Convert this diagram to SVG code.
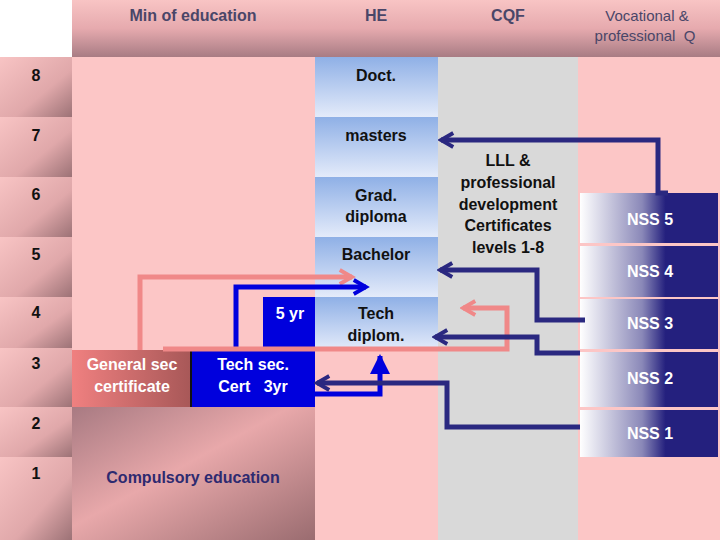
<svg xmlns="http://www.w3.org/2000/svg" width="720" height="540" viewBox="0 0 720 540">
<defs>
<linearGradient id="hdr" x1="0" y1="0" x2="0" y2="1"><stop offset="0" stop-color="#f8c4c4"/><stop offset="0.5" stop-color="#e6aaae"/><stop offset="1" stop-color="#a87c84"/></linearGradient>
<linearGradient id="lvl" x1="0" y1="0" x2="1" y2="1"><stop offset="0" stop-color="#f8c4c4"/><stop offset="0.6" stop-color="#e0a8aa"/><stop offset="1" stop-color="#9c7276"/></linearGradient>
<linearGradient id="he" x1="0" y1="0" x2="0" y2="1"><stop offset="0" stop-color="#8fb0e6"/><stop offset="1" stop-color="#e4ebfa"/></linearGradient>
<linearGradient id="nss" x1="0" y1="0" x2="1" y2="0"><stop offset="0" stop-color="#ffffff"/><stop offset="0.45" stop-color="#8a88b8"/><stop offset="0.62" stop-color="#24207e"/><stop offset="1" stop-color="#24207e"/></linearGradient>
<linearGradient id="gen" x1="0" y1="0" x2="1" y2="0"><stop offset="0" stop-color="#f08080"/><stop offset="1" stop-color="#a85858"/></linearGradient>
<linearGradient id="comp" x1="0" y1="0" x2="1" y2="1"><stop offset="0" stop-color="#a87a82"/><stop offset="0.45" stop-color="#e8a8aa"/><stop offset="1" stop-color="#9a6c70"/></linearGradient>
<marker id="an" viewBox="0 0 10 10" refX="8" refY="5" markerWidth="3.5" markerHeight="4" orient="auto"><path d="M1,1 L8,5 L1,9" fill="none" stroke="#2a2880" stroke-width="2.2"/></marker>
<marker id="ap" viewBox="0 0 10 10" refX="8" refY="5" markerWidth="3.5" markerHeight="4" orient="auto"><path d="M1,1 L8,5 L1,9" fill="none" stroke="#f08888" stroke-width="2.2"/></marker>
<marker id="ab" viewBox="0 0 10 10" refX="8" refY="5" markerWidth="3.5" markerHeight="4" orient="auto"><path d="M1,1 L8,5 L1,9" fill="none" stroke="#0000dd" stroke-width="2.2"/></marker>
<marker id="abf" viewBox="0 0 10 10" refX="9" refY="5" markerWidth="5" markerHeight="4" orient="auto"><path d="M0,0 L10,5 L0,10 Z" fill="#0000dd"/></marker>
</defs>
<style>
.t{font-family:"Liberation Sans",Arial,sans-serif;font-size:16px;font-weight:bold;text-anchor:middle}
.h{fill:#4a4668}
.k{fill:#111}
.w{fill:#fff}
.lv{fill:url(#lvl)}
.heb{fill:url(#he)}
.nb{fill:url(#nss)}
</style>
<rect width="720" height="540" fill="#fcc6c6"/>
<rect x="72" y="0" width="648" height="57" fill="url(#hdr)"/>
<rect x="0" y="0" width="72" height="57" fill="#fff"/>
<rect x="438" y="57" width="140" height="483" fill="#d9d9d9"/>
<g id="levels">
<rect class="lv" x="0" y="57" width="72" height="60"/><rect class="lv" x="0" y="117" width="72" height="60"/><rect class="lv" x="0" y="177" width="72" height="60"/><rect class="lv" x="0" y="237" width="72" height="60"/><rect class="lv" x="0" y="297" width="72" height="51"/><rect class="lv" x="0" y="348" width="72" height="59"/><rect class="lv" x="0" y="407" width="72" height="50"/><rect class="lv" x="0" y="457" width="72" height="83"/>
<text class="t k" x="36" y="81">8</text><text class="t k" x="36" y="141">7</text><text class="t k" x="36" y="200">6</text><text class="t k" x="36" y="260">5</text><text class="t k" x="36" y="318">4</text><text class="t k" x="36" y="369">3</text><text class="t k" x="36" y="429">2</text><text class="t k" x="36" y="479">1</text>
</g>
<g id="headers">
<text class="t h" x="193" y="21">Min of education</text>
<text class="t h" x="376" y="21">HE</text>
<text class="t h" x="508" y="21">CQF</text>
<text class="t h" x="647" y="21" style="font-weight:normal;font-size:15px">Vocational &amp;</text>
<text class="t h" x="645" y="41" style="font-weight:normal;font-size:15px" xml:space="preserve">professional  Q</text>
</g>
<g id="doct"><rect class="heb" x="315" y="57" width="123" height="60"/><text class="t k" x="376" y="81">Doct.</text></g>
<g id="masters"><rect class="heb" x="315" y="117" width="123" height="60"/><text class="t k" x="376" y="141">masters</text></g>
<g id="grad"><rect class="heb" x="315" y="177" width="123" height="60"/><text class="t k" x="376" y="201">Grad.</text><text class="t k" x="376" y="222">diploma</text></g>
<g id="bachelor"><rect class="heb" x="315" y="237" width="123" height="60"/><text class="t k" x="376" y="260">Bachelor</text></g>
<g id="techdip"><rect class="heb" x="315" y="297" width="123" height="53"/><text class="t k" x="376" y="319">Tech</text><text class="t k" x="376" y="341">diplom.</text></g>
<g id="fiveyr"><rect x="263" y="297" width="52" height="51" fill="#0000dd"/><text class="t w" x="290" y="319">5 yr</text></g>
<g id="gensec"><rect x="72" y="350" width="118" height="57" fill="url(#gen)"/><text class="t w" x="132" y="370">General sec</text><text class="t w" x="132" y="392">certificate</text></g>
<g id="techsec"><rect x="190" y="350" width="125" height="57" fill="#0000dd"/><line x1="191" y1="350" x2="191" y2="407" stroke="#111" stroke-width="2"/><text class="t w" x="253" y="370">Tech sec.</text><text class="t w" x="253" y="392" xml:space="preserve">Cert   3yr</text></g>
<g id="compulsory"><rect x="72" y="407" width="243" height="133" fill="url(#comp)"/><text class="t" x="193" y="483" fill="#2e2a70">Compulsory education</text></g>
<g id="cqf"><text class="t k" x="508" y="166">LLL &amp;</text><text class="t k" x="508" y="188">professional</text><text class="t k" x="508" y="210">development</text><text class="t k" x="508" y="231">Certificates</text><text class="t k" x="508" y="253">levels 1-8</text></g>
<g id="nss5"><rect class="nb" x="580" y="193" width="138" height="50"/><text class="t w" x="650" y="225">NSS 5</text></g>
<g id="nss4"><rect class="nb" x="580" y="246" width="138" height="51"/><text class="t w" x="650" y="277">NSS 4</text></g>
<g id="nss3"><rect class="nb" x="580" y="299" width="138" height="50"/><text class="t w" x="650" y="329">NSS 3</text></g>
<g id="nss2"><rect class="nb" x="580" y="352" width="138" height="55"/><text class="t w" x="650" y="384">NSS 2</text></g>
<g id="nss1"><rect class="nb" x="580" y="410" width="138" height="47"/><text class="t w" x="650" y="439">NSS 1</text></g>
<g id="connectors" fill="none" stroke-width="5">
<polyline points="140,350 140,277 352,277" stroke="#f08888" marker-end="url(#ap)"/>
<polyline points="236,350 236,287 366,287" stroke="#0000dd" marker-end="url(#ab)"/>
<polyline points="163,349 507,349 507,308 463,308" stroke="#f08888" marker-end="url(#ap)"/>
<polyline points="315,394 380,394 380,356" stroke="#0000dd" marker-end="url(#abf)"/>
<polyline points="668,193 658,193 658,140 441,140" stroke="#2a2880" marker-end="url(#an)"/>
<polyline points="585,320 537,320 537,270 440,270" stroke="#2a2880" marker-end="url(#an)"/>
<polyline points="580,353 537,353 537,337 435,337" stroke="#2a2880" marker-end="url(#an)"/>
<polyline points="580,427 447,427 447,383 317,383" stroke="#2a2880" marker-end="url(#an)"/>
</g>
</svg>
